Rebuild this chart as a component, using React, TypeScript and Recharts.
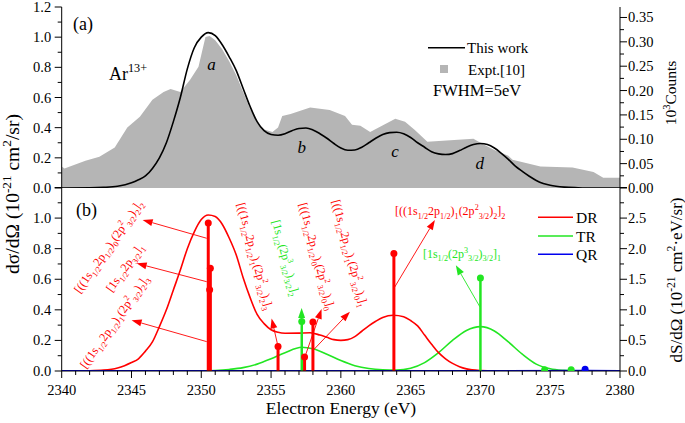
import React from "react";
import { ComposedChart, Line, Area, Scatter, XAxis, YAxis, ReferenceLine, ReferenceDot } from "recharts";

const SERIF = '"Liberation Serif", "DejaVu Serif", serif';
const RED = "#ff0000";
const GREEN = "#22e622";
const BLUE = "#0000ee";
const GRAY = "#b5b5b5";

// panel (a): theory curve (left axis) and experiment counts (right axis)
const thisWork = [
  [2340, 0], [2342, 0.001], [2343, 0.004], [2344, 0.012], [2345, 0.035], [2345.5, 0.055],
  [2346, 0.08], [2346.5, 0.13], [2347, 0.2], [2347.5, 0.3], [2348, 0.44], [2348.5, 0.6],
  [2349, 0.79], [2349.5, 0.93], [2350, 1.0], [2350.5, 1.03], [2351, 1.01], [2351.5, 0.95],
  [2352, 0.87], [2352.5, 0.78], [2353, 0.66], [2353.5, 0.54], [2354, 0.44], [2354.5, 0.38],
  [2355, 0.355], [2355.5, 0.35], [2356, 0.36], [2356.5, 0.38], [2357, 0.395], [2357.5, 0.398],
  [2358, 0.385], [2358.5, 0.36], [2359, 0.33], [2359.5, 0.295], [2360, 0.265], [2360.5, 0.25],
  [2361, 0.252], [2361.5, 0.27], [2362, 0.3], [2362.5, 0.33], [2363, 0.355], [2363.5, 0.367],
  [2364, 0.37], [2364.5, 0.36], [2365, 0.335], [2365.5, 0.3], [2366, 0.27], [2366.5, 0.24],
  [2367, 0.226], [2367.5, 0.222], [2368, 0.228], [2368.5, 0.248], [2369, 0.27], [2369.5, 0.288],
  [2370, 0.295], [2370.5, 0.288], [2371, 0.265], [2371.5, 0.23], [2372, 0.19], [2372.5, 0.145],
  [2373, 0.11], [2373.5, 0.078], [2374, 0.05], [2374.5, 0.03], [2375, 0.018], [2376, 0.006],
  [2377, 0.002], [2378, 0], [2380, 0],
];

const expt = [
  [2340, 0.044], [2340.2, 0.04], [2341.7, 0.056], [2342.7, 0.064], [2343.8, 0.083], [2344.7, 0.124],
  [2345.6, 0.146], [2346.5, 0.181], [2347.3, 0.197], [2347.8, 0.203], [2348.5, 0.197], [2349.2, 0.222],
  [2349.8, 0.249], [2350.3, 0.31], [2350.6, 0.312], [2351, 0.303], [2351.5, 0.285], [2352, 0.26],
  [2352.5, 0.232], [2353, 0.197], [2353.5, 0.162], [2354, 0.135], [2354.5, 0.12], [2355.1, 0.115],
  [2355.5, 0.124], [2355.8, 0.148], [2356.4, 0.152], [2357.8, 0.165], [2359.2, 0.16], [2360.3, 0.148],
  [2360.8, 0.13], [2361.4, 0.128], [2362.1, 0.115], [2363.9, 0.142], [2364.6, 0.136], [2365.3, 0.119],
  [2366.2, 0.095], [2369.5, 0.101], [2370, 0.093], [2371, 0.078], [2372, 0.066], [2372.3, 0.058],
  [2374.3, 0.044], [2376.6, 0.042], [2378.1, 0.033], [2378.8, 0.021], [2380, 0.021],
];

// panel (b): convolved cross sections (left axis)
const drCurve = [
  [2340, 0], [2342, 0.002], [2343, 0.006], [2344, 0.02], [2344.5, 0.035], [2345, 0.055],
  [2345.5, 0.08], [2346, 0.13], [2346.5, 0.19], [2347, 0.29], [2347.5, 0.4], [2348, 0.53],
  [2348.5, 0.66], [2349, 0.8], [2349.5, 0.91], [2350, 0.99], [2350.5, 1.02], [2351, 1.01],
  [2351.5, 0.96], [2352, 0.87], [2352.5, 0.76], [2353, 0.61], [2353.5, 0.48], [2354, 0.37],
  [2354.5, 0.31], [2355, 0.27], [2355.5, 0.253], [2356, 0.247], [2357, 0.248], [2357.8, 0.25],
  [2358.5, 0.235], [2359, 0.22], [2359.5, 0.205], [2360, 0.2], [2360.5, 0.205], [2361, 0.225],
  [2361.5, 0.26], [2362, 0.295], [2362.5, 0.325], [2363, 0.35], [2363.75, 0.365], [2364.5, 0.355],
  [2365, 0.33], [2365.5, 0.295], [2366, 0.235], [2366.5, 0.175], [2367, 0.12], [2367.5, 0.08],
  [2368, 0.05], [2368.5, 0.028], [2369, 0.014], [2370, 0.003], [2371, 0], [2380, 0],
];

const trCurve = [
  [2340, 0], [2350, 0], [2351, 0.003], [2352, 0.01], [2353, 0.022], [2354, 0.045], [2355, 0.08],
  [2356, 0.12], [2357.2, 0.155], [2358, 0.145], [2359, 0.11], [2360, 0.068], [2361, 0.035],
  [2362, 0.016], [2363, 0.008], [2364, 0.006], [2365, 0.018], [2366, 0.055], [2367, 0.12],
  [2368, 0.2], [2369, 0.265], [2370, 0.29], [2371, 0.262], [2372, 0.19], [2373, 0.11],
  [2374, 0.045], [2375, 0.015], [2376, 0.004], [2377, 0], [2380, 0],
];

const qrCurve = [[2340, 0], [2360, 0], [2377.5, 0.001], [2380, 0]];

// resonance strengths (right axis)
const drStems = [[2350.5, 2.42], [2350.65, 1.68], [2350.6, 1.33], [2355.5, 0.4], [2357.4, 0.23], [2358.0, 0.8], [2363.8, 1.92]];
const trStems = [[2357.2, 0.81], [2370.0, 1.52], [2374.6, 0.02], [2376.5, 0.02]];
const qrStems = [[2377.5, 0.03]];

// axis ticks
const xMajor = [2340, 2345, 2350, 2355, 2360, 2365, 2370, 2375, 2380];
const xAll = Array.from({ length: 41 }, (_, i) => 2340 + i);
const sigmaMajor = [0, 0.2, 0.4, 0.6, 0.8, 1.0, 1.2];
const sigmaAll = [0, 0.1, 0.2, 0.3, 0.4, 0.5, 0.6, 0.7, 0.8, 0.9, 1.0, 1.1, 1.2];
const countsMajor = [0, 0.05, 0.1, 0.15, 0.2, 0.25, 0.3, 0.35];
const countsAll = [0, 0.025, 0.05, 0.075, 0.1, 0.125, 0.15, 0.175, 0.2, 0.225, 0.25, 0.275, 0.3, 0.325, 0.35];
const strengthMajor = [0, 0.5, 1.0, 1.5, 2.0, 2.5, 3.0];
const strengthLabels = [0, 0.5, 1.0, 1.5, 2.0, 2.5];
const strengthAll = [0, 0.25, 0.5, 0.75, 1.0, 1.25, 1.5, 1.75, 2.0, 2.25, 2.5, 2.75, 3.0];

// level labels and arrows, in (energy, strength) coordinates
const levelNotes = [
  { text: "[((1s_{1/2}2p_{1/2})_{0}(2p^{2}_{3/2})_{2}]_{2}", e: 2341.31, s: 1.26, angle: -55, color: RED },
  { text: "[1s_{1/2}2p_{3/2}]_{1}", e: 2343.6, s: 1.28, angle: -55, color: RED },
  { text: "[((1s_{1/2}2p_{1/2})_{1}(2p^{2}_{3/2})_{2}]_{3}", e: 2341.74, s: 0.03, angle: -55, color: RED },
  { text: "[((1s_{1/2}2p_{1/2})_{1}(2p^{2}_{3/2})_{2}]_{3}", e: 2352.56, s: 2.73, angle: 75, color: RED },
  { text: "[1s_{1/2}(2p^{3}_{3/2})_{3/2}]_{2}", e: 2355.06, s: 2.45, angle: 75, color: GREEN },
  { text: "[((1s_{1/2}2p_{1/2})_{0}(2p^{2}_{3/2})_{0}]_{0}", e: 2357.0, s: 2.73, angle: 75, color: RED },
  { text: "[((1s_{1/2}2p_{1/2})_{1}(2p^{2}_{3/2})_{0}]_{1}", e: 2359.36, s: 2.78, angle: 75, color: RED },
  { text: "[((1s_{1/2}2p_{1/2})_{1}(2p^{2}_{3/2})_{2}]_{2}", e: 2363.88, s: 2.55, angle: 0, color: RED },
  { text: "[1s_{1/2}(2p^{3}_{3/2})_{3/2}]_{1}", e: 2365.88, s: 1.85, angle: 0, color: GREEN },
];

const arrows = [
  { from: [2350.39, 2.17], to: [2345.8, 2.47], color: RED },
  { from: [2350.39, 1.46], to: [2345.37, 1.76], color: RED },
  { from: [2350.39, 0.48], to: [2345.01, 0.83], color: RED },
  { from: [2355.46, 0.44], to: [2355.04, 0.86], color: RED },
  { from: [2357.19, 0.81], to: [2357.19, 1.03], color: GREEN },
  { from: [2357.43, 0.234], to: [2358.62, 1.015], color: RED },
  { from: [2358.02, 0.34], to: [2360.65, 0.97], color: RED },
  { from: [2363.8, 1.35], to: [2366.74, 2.47], color: RED },
  { from: [2369.96, 1.05], to: [2368.24, 1.73], color: GREEN },
];

const peakLetters = [
  { t: "a", e: 2350.74, v: 0.78 },
  { t: "b", e: 2357.19, v: 0.232 },
  { t: "c", e: 2363.88, v: 0.205 },
  { t: "d", e: 2369.96, v: 0.126 },
];

const rows = (pairs: number[][]) => pairs.map(([e, v]) => ({ e, v }));

const near = (list: number[], v: number) => list.some((m) => Math.abs(m - v) < 1e-6);

function Rich({ src, size }: { src: string; size: number }) {
  const parts = src.split(/(_\{[^}]*\}|\^\{[^}]*\})/).filter((s) => s.length > 0);
  let shift = 0;
  return (
    <>
      {parts.map((part, i) => {
        let target = 0;
        let txt = part;
        let fs = size;
        if (part.startsWith("_{")) {
          target = size * 0.3;
          txt = part.slice(2, -1);
          fs = size * 0.68;
        } else if (part.startsWith("^{")) {
          target = -size * 0.42;
          txt = part.slice(2, -1);
          fs = size * 0.68;
        }
        const dy = target - shift;
        shift = target;
        return (
          <tspan key={i} dy={dy} fontSize={fs}>
            {txt}
          </tspan>
        );
      })}
    </>
  );
}

const serif = { fontFamily: SERIF };
const TICK_FONT = 14.5;

function yTick(side: "left" | "right", majors: number[], labels: number[], digits: number) {
  return (p: any) => {
    const v = p.payload.value;
    const dir = side === "left" ? -1 : 1;
    const len = near(majors, v) ? 7 : 4;
    return (
      <g>
        <line x1={p.x} y1={p.y} x2={p.x + dir * len} y2={p.y} stroke="#000" strokeWidth={1} />
        {near(labels, v) && (
          <text
            x={p.x + (side === "left" ? -10.5 : 8)}
            y={p.y}
            dy={5}
            textAnchor={side === "left" ? "end" : "start"}
            fontSize={TICK_FONT}
            style={serif}
            fill="#000"
          >
            {v.toFixed(digits)}
          </text>
        )}
      </g>
    );
  };
}

function xTick(dir: 1 | -1, withLabels: boolean) {
  return (p: any) => {
    const v = p.payload.value;
    const len = near(xMajor, v) ? 7 : 4;
    return (
      <g>
        <line x1={p.x} y1={p.y} x2={p.x} y2={p.y + dir * len} stroke="#000" strokeWidth={1} />
        {withLabels && near(xMajor, v) && (
          <text x={p.x} y={p.y + 24} textAnchor="middle" fontSize={TICK_FONT} style={serif} fill="#000">
            {v}
          </text>
        )}
      </g>
    );
  };
}

function arrowShape(color: string) {
  return (p: any) => {
    const { x1, y1, x2, y2 } = p;
    const a = Math.atan2(y2 - y1, x2 - x1);
    const L = 10;
    const W = 3.5;
    const bx = x2 - L * Math.cos(a);
    const by = y2 - L * Math.sin(a);
    const pts = `${x2},${y2} ${bx - W * Math.sin(a)},${by + W * Math.cos(a)} ${bx + W * Math.sin(a)},${by - W * Math.cos(a)}`;
    return (
      <g>
        <line x1={x1} y1={y1} x2={bx} y2={by} stroke={color} strokeWidth={0.9} />
        <polygon points={pts} fill={color} />
      </g>
    );
  };
}

function noteShape(text: string, angle: number, color: string) {
  return (p: any) => (
    <text
      x={p.cx}
      y={p.cy}
      transform={`rotate(${angle} ${p.cx} ${p.cy})`}
      fontSize={12}
      style={serif}
      fill={color}
    >
      <Rich src={text} size={12} />
    </text>
  );
}

function letterShape(t: string) {
  return (p: any) => (
    <text x={p.cx} y={p.cy} textAnchor="middle" fontSize={17} fontStyle="italic" style={serif} fill="#000">
      {t}
    </text>
  );
}

function stemDot(color: string) {
  return (p: any) => <circle cx={p.cx} cy={p.cy} r={3.5} fill={color} />;
}

function stemLines(list: number[][], color: string, width: number, tag: string) {
  return list.map(([e, s], i) => (
    <ReferenceLine
      key={`${tag}${i}`}
      yAxisId="r"
      segment={[{ x: e, y: 0 }, { x: e, y: s }]}
      stroke={color}
      strokeWidth={width}
    />
  ));
}

export default function App() {
  return (
    <div style={{ position: "absolute", left: 0, top: 0, width: 685, height: 423, background: "#fff", ...serif }}>
      <div style={{ position: "absolute", left: 0, top: 0 }}>
        <ComposedChart width={685} height={200} margin={{ top: 7, right: 0, bottom: 12, left: 0 }}>
          <XAxis type="number" dataKey="e" domain={[2340, 2380]} allowDataOverflow hide />
          <XAxis
            xAxisId="t"
            orientation="top"
            type="number"
            dataKey="e"
            domain={[2340, 2380]}
            allowDataOverflow
            height={0}
            tick={false}
            tickLine={false}
            axisLine={{ stroke: "#000" }}
          />
          <YAxis
            yAxisId="l"
            width={61.7}
            type="number"
            domain={[0, 1.2]}
            allowDataOverflow
            ticks={sigmaAll}
            interval={0}
            tickLine={false}
            tickSize={0}
            tickMargin={0}
            tick={yTick("left", sigmaMajor, sigmaMajor, 1)}
            axisLine={{ stroke: "#000" }}
          />
          <YAxis
            yAxisId="r"
            orientation="right"
            width={65}
            type="number"
            domain={[0, 0.3715]}
            allowDataOverflow
            ticks={countsAll}
            interval={0}
            tickLine={false}
            tickSize={0}
            tickMargin={0}
            tick={yTick("right", countsMajor, countsMajor, 2)}
            axisLine={{ stroke: "#000" }}
          />
          <Area
            yAxisId="r"
            data={rows(expt)}
            dataKey="v"
            type="linear"
            stroke="none"
            fill={GRAY}
            fillOpacity={1}
            isAnimationActive={false}
          />
          <Line
            yAxisId="l"
            data={rows(thisWork)}
            dataKey="v"
            type="monotone"
            stroke="#000"
            strokeWidth={1.6}
            dot={false}
            activeDot={false}
            isAnimationActive={false}
          />
          {peakLetters.map((l) => (
            <ReferenceDot key={l.t} yAxisId="l" x={l.e} y={l.v} r={0} shape={letterShape(l.t)} />
          ))}
        </ComposedChart>
      </div>

      <div style={{ position: "absolute", left: 0, top: 180 }}>
        <ComposedChart width={685} height={243} margin={{ top: 7.5, right: 0, bottom: 0, left: 0 }}>
          <XAxis
            type="number"
            dataKey="e"
            domain={[2340, 2380]}
            allowDataOverflow
            height={52}
            ticks={xAll}
            interval={0}
            tickLine={false}
            tickSize={0}
            tickMargin={0}
            tick={xTick(1, true)}
            axisLine={{ stroke: "#000" }}
          />
          <XAxis
            xAxisId="t"
            orientation="top"
            type="number"
            dataKey="e"
            domain={[2340, 2380]}
            allowDataOverflow
            height={0}
            ticks={xAll}
            interval={0}
            tickLine={false}
            tickSize={0}
            tickMargin={0}
            tick={xTick(1, false)}
            axisLine={{ stroke: "#000" }}
          />
          <YAxis
            yAxisId="l"
            width={61.7}
            type="number"
            domain={[0, 1.2]}
            allowDataOverflow
            ticks={sigmaAll}
            interval={0}
            tickLine={false}
            tickSize={0}
            tickMargin={0}
            tick={yTick("left", sigmaMajor, [0, 0.2, 0.4, 0.6, 0.8, 1.0], 1)}
            axisLine={{ stroke: "#000" }}
          />
          <YAxis
            yAxisId="r"
            orientation="right"
            width={65}
            type="number"
            domain={[0, 3.0]}
            allowDataOverflow
            ticks={strengthAll}
            interval={0}
            tickLine={false}
            tickSize={0}
            tickMargin={0}
            tick={yTick("right", strengthMajor, strengthLabels, 1)}
            axisLine={{ stroke: "#000" }}
          />
          <Line yAxisId="l" data={rows(trCurve)} dataKey="v" type="monotone" stroke={GREEN} strokeWidth={1.6}
            dot={false} activeDot={false} isAnimationActive={false} />
          <Line yAxisId="l" data={rows(drCurve)} dataKey="v" type="monotone" stroke={RED} strokeWidth={1.6}
            dot={false} activeDot={false} isAnimationActive={false} />
          <Line xAxisId="t" yAxisId="l" data={rows(qrCurve)} dataKey="v" type="monotone" stroke={BLUE} strokeWidth={2}
            dot={false} activeDot={false} isAnimationActive={false} />
          {stemLines(drStems, RED, 3, "dr")}
          {stemLines(trStems, GREEN, 2.5, "tr")}
          {stemLines(qrStems, BLUE, 2, "qr")}
          <Scatter yAxisId="r" data={rows(drStems)} dataKey="v" shape={stemDot(RED)} isAnimationActive={false} />
          <Scatter yAxisId="r" data={rows(trStems)} dataKey="v" shape={stemDot(GREEN)} isAnimationActive={false} />
          <Scatter yAxisId="r" data={rows(qrStems)} dataKey="v" shape={stemDot(BLUE)} isAnimationActive={false} />
          {arrows.map((a, i) => (
            <ReferenceLine
              key={`a${i}`}
              yAxisId="r"
              segment={[{ x: a.from[0], y: a.from[1] }, { x: a.to[0], y: a.to[1] }]}
              stroke={a.color}
              shape={arrowShape(a.color)}
            />
          ))}
          {levelNotes.map((n, i) => (
            <ReferenceDot key={`n${i}`} yAxisId="r" x={n.e} y={n.s} r={0} shape={noteShape(n.text, n.angle, n.color)} />
          ))}
        </ComposedChart>
      </div>

      <svg width={685} height={423} style={{ position: "absolute", left: 0, top: 0, pointerEvents: "none", ...serif }}>
        {/* axis titles */}
        <text transform="translate(19,194) rotate(-90)" textAnchor="middle" fontSize={19.5} fill="#000">
          <Rich src="dσ/dΩ (10^{-21} cm^{2}/sr)" size={19.5} />
        </text>
        <text transform="translate(676,93) rotate(-90)" textAnchor="middle" fontSize={15.5} fill="#000">
          <Rich src="10^{3}Counts" size={15.5} />
        </text>
        <text transform="translate(682,280) rotate(-90)" textAnchor="middle" fontSize={17} fill="#000">
          <Rich src="dS/dΩ (10^{-21} cm^{2}·eV/sr)" size={17} />
        </text>
        <text x={341} y={414} textAnchor="middle" fontSize={17.5} fill="#000">
          Electron Energy (eV)
        </text>

        {/* panel (a) texts and legend */}
        <text x={73} y={30} fontSize={18} fill="#000">(a)</text>
        <text x={109} y={80} fontSize={18} fill="#000">
          <Rich src="Ar^{13+}" size={18} />
        </text>
        <line x1={428} y1={47.7} x2={465} y2={47.7} stroke="#000" strokeWidth={1.6} />
        <text x={467} y={53} fontSize={15} fill="#000">This work</text>
        <rect x={440} y={65} width={8} height={8} fill={GRAY} />
        <text x={468} y={75} fontSize={15} fill="#000">Expt.[10]</text>
        <text x={433} y={96} fontSize={16.5} fill="#000">FWHM=5eV</text>

        {/* panel (b) texts and legend */}
        <text x={76} y={216} fontSize={18} fill="#000">(b)</text>
        <line x1={538} y1={217.3} x2={573} y2={217.3} stroke={RED} strokeWidth={1.6} />
        <text x={576} y={223} fontSize={15.5} fill="#000">DR</text>
        <line x1={538} y1={236} x2={573} y2={236} stroke={GREEN} strokeWidth={1.6} />
        <text x={576} y={241.5} fontSize={15.5} fill="#000">TR</text>
        <line x1={538} y1={254.3} x2={573} y2={254.3} stroke={BLUE} strokeWidth={1.6} />
        <text x={576} y={260} fontSize={15.5} fill="#000">QR</text>
      </svg>
    </div>
  );
}
